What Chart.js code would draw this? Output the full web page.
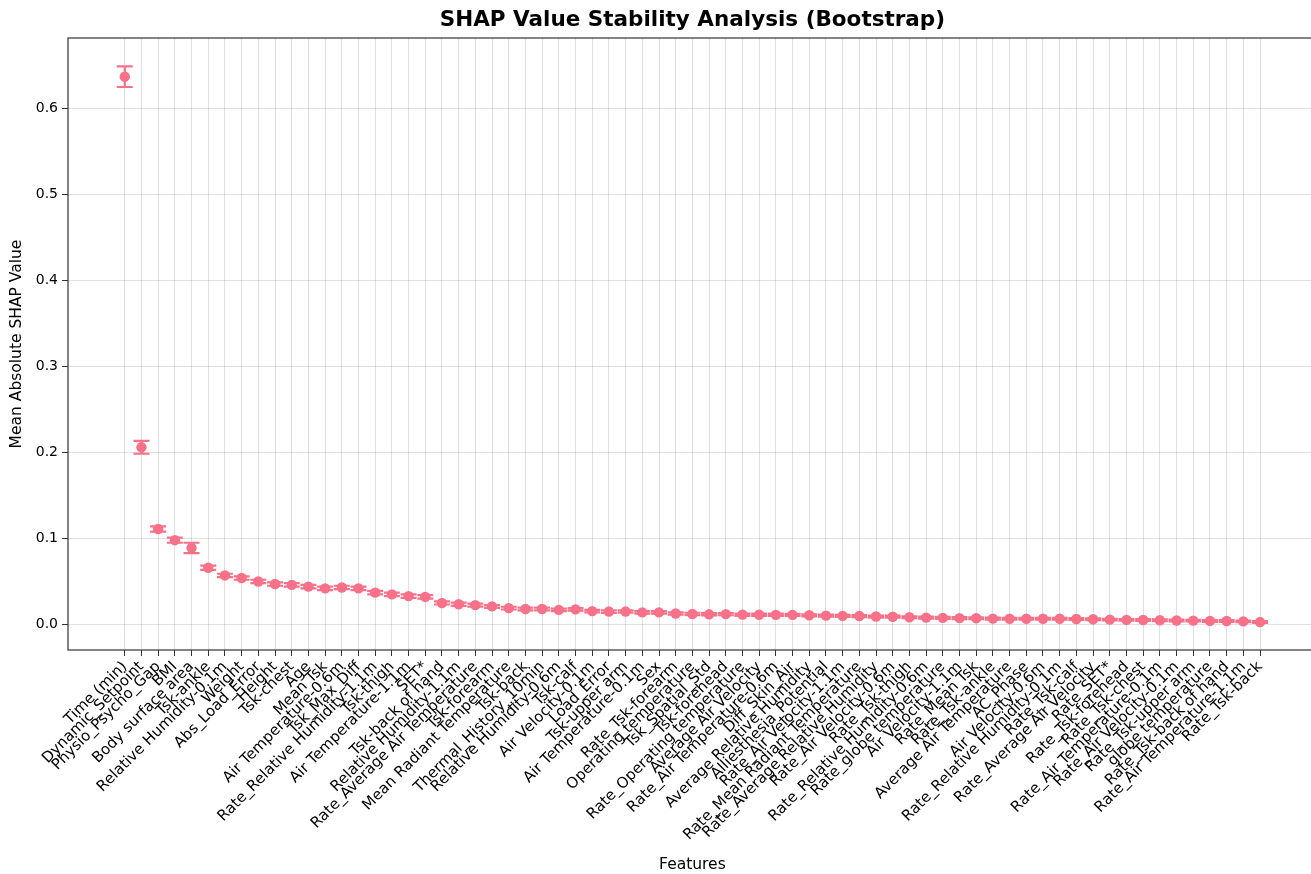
<!DOCTYPE html>
<html>
<head>
<meta charset="utf-8">
<script src="https://cdn.jsdelivr.net/npm/chart.js@4/dist/chart.umd.min.js"></script>
<style>
  html, body { margin: 0; padding: 0; background: #fff; overflow: hidden; }
  #wrap { position: relative; width: 1322px; height: 874px; }
</style>
</head>
<body>
<div id="wrap"><canvas id="c"></canvas></div>
<script>
// Features, ordered by mean absolute SHAP value
const features = [
  "Time (min)", "Dynamic_Setpoint", "Physio_Psycho_Gap", "BMI", "Body surface area",
  "Tsk-ankle", "Relative Humidity-0.1m", "Weight", "Abs_Load_Error", "Height",
  "Tsk-chest", "Age", "Mean Tsk", "Air Temperature-0.6m", "Tsk_Max_Diff",
  "Rate_Relative Humidity-1.1m", "Tsk-thigh", "Air Temperature-1.1m", "SET*", "Tsk-back of hand",
  "Relative Humidity-1.1m", "Rate_Average Air Temperature", "Tsk-forearm", "Mean Radiant Temperature", "Tsk-back",
  "Thermal_History_10min", "Relative Humidity-0.6m", "Tsk-calf", "Air Velocity-0.1m", "Load_Error",
  "Tsk-upper arm", "Air Temperature-0.1m", "Sex", "Rate_Tsk-forearm", "Operating temperature",
  "Tsk_Spatial_Std", "Tsk-forehead", "Rate_Operating temperature", "Average Air Velocity", "Rate_Air Temperature-0.6m",
  "Diff_Skin_Air", "Average Relative Humidity", "Alliesthesia_Potential", "Rate_Air Velocity-1.1m", "Rate_Mean Radiant Temperature",
  "Rate_Average Relative Humidity", "Rate_Air Velocity-0.6m", "Rate_Tsk-thigh", "Rate_Relative Humidity-0.6m", "Rate_globe temperature",
  "Air Velocity-1.1m", "Rate_Mean Tsk", "Rate_Tsk-ankle", "Average Air Temperature", "AC_Phase",
  "Air Velocity-0.6m", "Rate_Relative Humidity-0.1m", "Rate_Tsk-calf", "Rate_Average Air Velocity", "Rate_SET*",
  "Rate_Tsk-forehead", "Rate_Tsk-chest", "Rate_Air Temperature-0.1m", "Rate_Air Velocity-0.1m", "Rate_Tsk-upper arm",
  "globe temperature", "Rate_Tsk-back of hand", "Rate_Air Temperature-1.1m", "Rate_Tsk-back"
];

// Bootstrap mean of |SHAP|
const meanShap = [
  0.637, 0.206, 0.111, 0.098, 0.089,
  0.066, 0.057, 0.054, 0.050, 0.047,
  0.046, 0.044, 0.042, 0.043, 0.042,
  0.037, 0.035, 0.033, 0.032, 0.025,
  0.0235, 0.0225, 0.021, 0.019, 0.018,
  0.018, 0.017, 0.0175, 0.0155, 0.015,
  0.015, 0.014, 0.014, 0.0128, 0.0122,
  0.0118, 0.012, 0.0114, 0.0113, 0.0112,
  0.0112, 0.0107, 0.0103, 0.0099, 0.0098,
  0.0092, 0.009, 0.0084, 0.008, 0.0077,
  0.0074, 0.0072, 0.0068, 0.0066, 0.0066,
  0.0066, 0.0066, 0.0064, 0.006, 0.0056,
  0.0053, 0.0052, 0.0049, 0.0046, 0.0045,
  0.0041, 0.004, 0.0036, 0.0028
];

// Bootstrap standard deviation (error bar half-length)
const stdShap = [
  0.012, 0.0075, 0.003, 0.003, 0.006,
  0.0025, 0.002, 0.002, 0.002, 0.002,
  0.002, 0.002, 0.002, 0.002, 0.002,
  0.002, 0.002, 0.002, 0.002, 0.0018,
  0.0018, 0.0018, 0.0016, 0.0016, 0.0016,
  0.0016, 0.0015, 0.0015, 0.0015, 0.0015,
  0.0014, 0.0014, 0.0014, 0.0014, 0.0014,
  0.0013, 0.0013, 0.0013, 0.0013, 0.0013,
  0.0012, 0.0012, 0.0012, 0.0012, 0.0012,
  0.0012, 0.0012, 0.0011, 0.0011, 0.0011,
  0.0011, 0.0011, 0.0011, 0.0011, 0.001,
  0.001, 0.001, 0.001, 0.001, 0.001,
  0.001, 0.001, 0.001, 0.001, 0.001,
  0.001, 0.001, 0.001, 0.001
];

const yTicks = [0.0, 0.1, 0.2, 0.3, 0.4, 0.5, 0.6];

const COLOR = '#f77189';
const FONT = "'DejaVu Sans', sans-serif";

// Error bars with caps, drawn through the chart's own scales
const errorBars = {
  id: 'errorBars',
  beforeDatasetsDraw(chart) {
    const { ctx, scales: { x, y } } = chart;
    ctx.save();
    ctx.strokeStyle = COLOR;
    ctx.lineWidth = 2.2;
    const cap = 8;
    meanShap.forEach((m, i) => {
      const px = x.getPixelForValue(i);
      const lo = y.getPixelForValue(m - stdShap[i]);
      const hi = y.getPixelForValue(m + stdShap[i]);
      ctx.beginPath();
      ctx.moveTo(px, lo); ctx.lineTo(px, hi);
      ctx.moveTo(px - cap, lo); ctx.lineTo(px + cap, lo);
      ctx.moveTo(px - cap, hi); ctx.lineTo(px + cap, hi);
      ctx.stroke();
    });
    ctx.restore();
  }
};

// Frame around the plotting area
const frame = {
  id: 'frame',
  afterDatasetsDraw(chart) {
    const { ctx, chartArea: a } = chart;
    ctx.save();
    ctx.strokeStyle = '#333';
    ctx.lineWidth = 1.2;
    ctx.strokeRect(a.left, a.top, a.right - a.left, a.bottom - a.top);
    ctx.restore();
  }
};

new Chart(document.getElementById('c'), {
  type: 'scatter',
  data: {
    datasets: [{
      data: meanShap.map((v, i) => ({ x: i, y: v })),
      backgroundColor: COLOR,
      borderWidth: 0,
      pointRadius: 5.2,
      pointHoverRadius: 5.2
    }]
  },
  options: {
    responsive: true,
    maintainAspectRatio: false,
    animation: false,
    layout: { padding: { left: 0, right: 2, top: 0, bottom: 0 } },
    plugins: {
      legend: { display: false },
      tooltip: { enabled: false },
      title: {
        display: true,
        text: 'SHAP Value Stability Analysis (Bootstrap)',
        fullSize: false,
        color: '#000',
        font: { family: FONT, size: 21.5, weight: 'bold' },
        padding: { top: 8, bottom: 4.2 }
      }
    },
    scales: {
      x: {
        type: 'linear',
        min: -3.4,
        max: 71.4,
        afterBuildTicks(s) { s.ticks = features.map((_, i) => ({ value: i })); },
        afterFit(s) { s.height = 224; },
        ticks: {
          autoSkip: false,
          maxRotation: 45,
          minRotation: 45,
          padding: 2,
          color: '#000',
          font: { family: FONT, size: 15 },
          callback: (v) => features[v]
        },
        grid: {
          color: 'rgba(0,0,0,0.12)',
          tickColor: '#333',
          tickLength: 6,
          lineWidth: 1
        },
        border: { display: false },
        title: {
          display: true,
          text: 'Features',
          color: '#000',
          font: { family: FONT, size: 15.5 },
          padding: { top: 0, bottom: 0 }
        }
      },
      y: {
        min: -0.0297,
        max: 0.682,
        afterBuildTicks(s) { s.ticks = yTicks.map(v => ({ value: v })); },
        afterFit(s) { s.width = 68; },
        ticks: {
          padding: 4,
          color: '#000',
          font: { family: FONT, size: 14 },
          callback: (v) => v.toFixed(1)
        },
        grid: {
          color: 'rgba(0,0,0,0.12)',
          tickColor: '#333',
          tickLength: 6,
          lineWidth: 1
        },
        border: { display: false },
        title: {
          display: true,
          text: 'Mean Absolute SHAP Value',
          color: '#000',
          font: { family: FONT, size: 15.5 },
          padding: { top: 8, bottom: 0 }
        }
      }
    }
  },
  plugins: [errorBars, frame]
});
</script>
</body>
</html>
